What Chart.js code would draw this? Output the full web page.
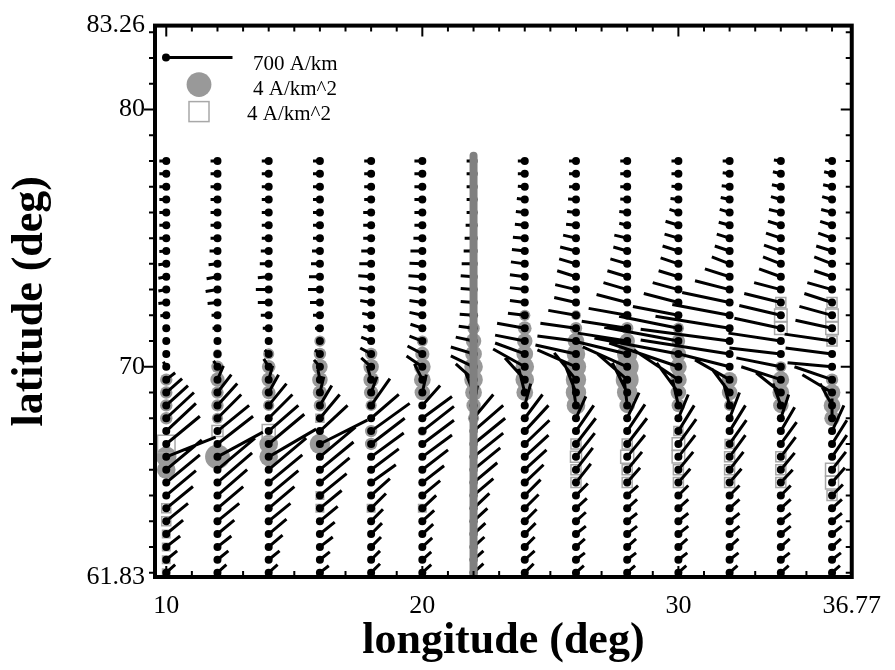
<!DOCTYPE html>
<html>
<head>
<meta charset="utf-8">
<script src="https://cdn.jsdelivr.net/npm/chart.js@4.4.1/dist/chart.umd.min.js"></script>
<style>
  html, body { margin: 0; background: #fff; }
</style>
</head>
<body>
<canvas id="vectorPlot" width="895" height="670"></canvas>
<script>
// grid of the equivalent current vectors
const longitudes = [10, 12, 14, 16, 18, 20, 22, 24, 26, 28, 30, 32, 34, 36]
const latitudes = [78, 77.5, 77, 76.5, 76, 75.5, 75, 74.5, 74, 73.5, 73, 72.5, 72, 71.5, 71, 70.5, 70,
                   69.5, 69, 68.5, 68, 67.5, 67, 66.5, 66, 65.5, 65, 64.5, 64, 63.5, 63, 62.5, 62]

// east / north components in A/km, one row per longitude, top latitude first
const eastCurrent = [
  [-70,-70,-70,-70,-70,-70,-70,-70,-80,-80,-80,-80,-60,-30,-20,-20,-30,90,160,220,280,300,340,500,360,340,300,270,220,170,140,110,90],
  [-70,-70,-70,-70,-70,-70,-70,-80,-90,-110,-120,-100,-60,-50,-30,-20,-40,60,140,200,240,320,360,460,380,350,300,260,220,170,140,110,90],
  [-70,-70,-70,-70,-70,-70,-70,-80,-90,-110,-130,-110,-80,-60,-30,-40,-50,40,100,180,240,300,360,480,380,340,300,260,220,180,140,110,90],
  [-70,-70,-70,-70,-70,-70,-70,-80,-90,-110,-120,-100,-70,-50,-30,-50,-60,-20,40,120,200,280,480,360,340,300,270,220,180,150,130,100,90],
  [-70,-70,-70,-70,-80,-80,-80,-100,-120,-130,-120,-110,-90,-80,-100,-110,-100,-40,60,190,280,390,340,330,280,250,190,150,120,110,100,90,90],
  [-80,-80,-80,-80,-80,-80,-90,-120,-130,-140,-140,-130,-130,-120,-130,-150,-160,-80,40,180,300,320,320,300,260,220,180,140,120,110,100,90,90],
  [-70,-70,-70,-70,-70,-80,-90,-100,-120,-130,-130,-130,-140,-150,-180,-230,-230,-180,-80,40,200,300,320,300,270,240,200,160,140,120,110,100,100],
  [-70,-70,-70,-80,-90,-100,-120,-130,-140,-150,-150,-150,-170,-280,-300,-300,-320,-200,-60,60,180,240,250,240,220,190,160,140,120,110,100,100,90],
  [-70,-70,-70,-80,-90,-100,-130,-160,-170,-190,-210,-220,-280,-360,-390,-410,-390,-220,-120,-40,100,180,200,190,170,150,120,110,100,100,90,90,80],
  [-70,-70,-70,-70,-80,-80,-130,-140,-170,-200,-240,-310,-390,-460,-500,-500,-450,-300,-150,-30,120,180,200,180,150,130,110,100,100,100,90,90,80],
  [-70,-70,-70,-80,-90,-130,-140,-160,-180,-200,-260,-350,-460,-600,-750,-850,-700,-450,-220,-60,100,160,180,170,150,120,100,100,100,100,90,90,80],
  [-70,-70,-80,-90,-100,-110,-130,-150,-180,-250,-350,-480,-580,-750,-900,-900,-550,-350,-180,-60,100,160,170,160,140,120,100,100,100,100,90,90,80],
  [-70,-80,-90,-100,-120,-130,-150,-170,-180,-220,-270,-370,-420,-470,-530,-520,-450,-400,-250,-80,80,140,160,150,140,120,100,100,100,100,90,90,80],
  [-70,-80,-90,-100,-110,-120,-140,-160,-180,-180,-250,-280,-330,-370,-480,-470,-450,-380,-300,-120,0,120,150,150,140,130,110,100,100,100,90,90,80]
]
const northCurrent = [
  [0,0,0,0,0,0,0,-5,-10,-15,-15,-10,-5,0,0,0,50,70,140,200,260,280,280,200,300,280,250,220,180,140,110,90,80],
  [0,0,0,0,0,0,0,0,-10,-20,-20,-10,0,0,0,10,60,140,180,220,240,260,280,250,320,300,260,220,180,140,110,90,80],
  [0,0,0,0,0,0,0,0,0,-10,0,0,0,0,10,40,80,140,180,220,240,260,300,280,320,280,250,220,180,150,120,90,80],
  [0,0,0,0,0,0,0,0,0,0,0,0,0,0,10,40,70,100,160,200,240,260,240,300,280,250,220,180,150,120,100,80,70],
  [0,0,0,0,0,0,0,0,0,10,15,20,20,20,40,60,90,140,160,270,240,280,260,240,210,180,170,150,120,110,100,90,90],
  [0,0,0,0,0,0,0,0,5,10,20,20,30,40,50,80,110,160,180,200,220,250,240,220,200,170,150,130,110,100,90,80,80],
  [0,0,0,0,0,0,0,0,0,10,10,10,10,20,40,70,110,160,200,200,240,260,260,240,220,200,170,150,130,110,100,90,90],
  [0,0,5,10,10,10,10,15,20,20,20,20,20,50,60,110,180,220,240,220,240,260,240,220,200,180,160,140,120,110,100,90,90],
  [0,0,0,5,10,10,30,40,50,60,50,50,50,50,50,90,170,270,300,270,220,260,260,240,220,190,120,100,90,80,80,70,70],
  [0,0,0,5,10,20,30,40,50,60,70,80,70,70,80,120,200,260,300,260,260,270,260,220,180,150,100,90,80,80,80,70,70],
  [0,0,5,10,30,40,40,50,60,60,70,90,90,120,140,160,240,300,300,260,240,260,250,220,180,140,100,90,80,80,80,70,70],
  [0,10,10,20,30,30,40,50,70,80,90,100,110,120,120,140,140,200,240,220,260,260,240,220,180,140,100,90,80,80,80,70,70],
  [10,20,20,30,30,40,50,60,70,80,70,90,100,100,80,60,90,130,200,220,240,240,220,200,170,130,100,90,80,80,80,70,70],
  [10,20,20,30,30,40,50,50,70,60,70,90,90,80,70,60,40,130,180,220,200,260,240,220,180,150,110,90,80,80,80,70,70]
]

// upward current density (A/km^2): [lon, lat, value]
const upwardDensity = [
  [10,69.5,2],[10,69,2],[10,68.5,2],[10,68,2],[10,66.5,3.3],[10,66,3],
  [12,70.5,1.5],[12,70,2],[12,69.5,2.3],[12,69,2],[12,68.5,2],[12,68,1.8],[12,66.5,4],
  [14,70.5,1.8],[14,70,2.2],[14,69.5,2.3],[14,69,2.2],[14,68.5,1.8],[14,67,3],[14,66.5,3],
  [16,71,1.8],[16,70.5,2],[16,70,2.5],[16,69.5,2.5],[16,69,2.3],[16,68.5,2],[16,67,3.3],
  [18,70.5,2],[18,70,2.5],[18,69.5,2.5],[18,69,2.3],[18,68.5,1.8],[18,67.5,2],[18,67,2],
  [20,71,1.8],[20,70.5,2.3],[20,70,2.7],[20,69.5,2.7],[20,69,2.5],[20,67.5,1.5],
  [22,72,1.5],[22,71.5,2],[22,71,2.5],[22,70.5,2.7],[22,70,3],[22,69.5,3],[22,69,2.7],[22,68.5,2.3],[22,68,1.8],
  [24,72,1.8],[24,71.5,2.2],[24,71,2.5],[24,70.5,2.7],[24,70,3],[24,69.5,3],[24,69,2.7],
  [26,72,1.6],[26,71.5,2],[26,71,2.7],[26,70.5,3],[26,70,3.3],[26,69.5,3.3],[26,69,3.3],[26,68.5,3],
  [28,72,1.5],[28,71.5,2],[28,71,2.5],[28,70.5,3.3],[28,70,3.7],[28,69.5,3.7],[28,69,3.3],[28,68.5,2.5],
  [30,71.5,1.8],[30,71,2.2],[30,70.5,2.5],[30,70,2.7],[30,69.5,2.7],[30,69,2.5],[30,68.5,2.2],
  [32,69.5,2.5],[32,69,2.5],[32,68.5,1.8],
  [34,70,1.8],[34,69.5,2.7],[34,69,2.7],[34,68.5,2.5],
  [36,69.5,2],[36,69,2.7],[36,68.5,2.7],[36,68,2.5]
]
// downward current density (A/km^2): [lon, lat, value]
const downwardDensity = [
  [10,67,3.5],[10,64.5,1.8],[10,64,1.8],[10,63.5,1.5],[10,63,1.5],[10,62.5,1.5],[10,62,1.5],
  [12,67.5,2.2],[14,67.5,2.6],
  [16,68,1.6],[16,65,1.5],[16,64.5,1.5],[18,64.5,1.5],[20,64.5,1.5],
  [26,67,2],[26,66.5,2.2],[26,66,2],[26,65.5,2],
  [28,67,2],[28,66.5,2.6],[28,66,2],[28,65.5,2],
  [30,67.5,1.8],[30,67,2.5],[30,66.5,2.5],[30,66,2],[30,65.5,2],
  [32,67,1.8],[32,66.5,2],[32,66,2],[32,65.5,2],
  [34,72.5,2],[34,72,2.5],[34,71.5,2.5],[34,66.5,2],[34,66,2],[34,65.5,2],
  [36,72.5,2],[36,72,2.5],[36,71.5,2.5],[36,71,2],[36,66,2.6],[36,65.5,2.6],[36,65,2]
]

const meridianLon = 22
const meridianLat = [61.83, 78.2]

const xRange = [9.56, 36.77]
const yRange = [61.83, 83.26]
const xTickLabels = [10, 20, 30, 36.77]
const yTickLabels = [61.83, 70, 80, 83.26]

const refCurrent = 700   // A/km
const refDensity = 4     // A/km^2

const pxPerCurrent = 0.1           // px per A/km
const lonPerPx = (xRange[1] - xRange[0]) / 705
const latPerPx = (yRange[1] - yRange[0]) / 557
const circleRadius = v => 3.1 * v
const squareSide = v => 5 * v

const serif = '"Liberation Serif", "Times New Roman", serif'

// build the datasets
const gridPoints = []
const vectorPath = []
longitudes.forEach((lon, i) => {
    latitudes.forEach((lat, j) => {
        gridPoints.push({x: lon, y: lat})
        vectorPath.push({x: lon, y: lat})
        vectorPath.push({
            x: lon + eastCurrent[i][j] * pxPerCurrent * lonPerPx,
            y: lat + northCurrent[i][j] * pxPerCurrent * latPerPx
        })
        vectorPath.push({x: null, y: null})
    })
})

// frame, ticks and key
const framePlugin = {
    id: 'frame',
    afterDraw(chart) {
        const {ctx, chartArea: a, scales: {x, y}} = chart
        ctx.save()
        ctx.strokeStyle = '#000'
        ctx.lineWidth = 2
        ctx.beginPath()
        for (let lon = 10; lon <= 36; lon++) {
            const px = x.getPixelForValue(lon)
            const len = lon % 10 === 0 ? 11 : 6
            ctx.moveTo(px, a.bottom); ctx.lineTo(px, a.bottom - len)
            ctx.moveTo(px, a.top); ctx.lineTo(px, a.top + len)
        }
        for (let lat = 62; lat <= 83; lat++) {
            const py = y.getPixelForValue(lat)
            const len = lat % 10 === 0 ? 11 : 6
            ctx.moveTo(a.left, py); ctx.lineTo(a.left - len, py)
            ctx.moveTo(a.right, py); ctx.lineTo(a.right - len, py)
        }
        ctx.stroke()
        ctx.lineWidth = 4
        ctx.strokeRect(a.left, a.top, a.right - a.left, a.bottom - a.top)

        // key
        const kx = a.left + 11, ky = a.top + 32
        ctx.lineWidth = 3
        ctx.beginPath()
        ctx.moveTo(kx, ky); ctx.lineTo(kx + refCurrent * pxPerCurrent * 0.95, ky)
        ctx.stroke()
        ctx.fillStyle = '#000'
        ctx.beginPath(); ctx.arc(kx, ky, 4, 0, Math.PI * 2); ctx.fill()
        ctx.fillStyle = '#999'
        ctx.beginPath(); ctx.arc(a.left + 44, a.top + 59, circleRadius(refDensity), 0, Math.PI * 2); ctx.fill()
        const s = squareSide(refDensity)
        ctx.strokeStyle = '#a8a8a8'
        ctx.lineWidth = 1.5
        ctx.strokeRect(a.left + 44 - s / 2, a.top + 86 - s / 2, s, s)
        ctx.fillStyle = '#000'
        ctx.font = '21px ' + serif
        ctx.textBaseline = 'middle'
        ctx.fillText(refCurrent + ' A/km', a.left + 98, a.top + 39)
        ctx.fillText(refDensity + ' A/km^2', a.left + 98, a.top + 64)
        ctx.fillText(refDensity + ' A/km^2', a.left + 92, a.top + 89)
        ctx.restore()
    }
}

new Chart(document.getElementById('vectorPlot'), {
    type: 'scatter',
    data: {
        datasets: [{
            label: 'upward',
            data: upwardDensity.map(d => ({x: d[0], y: d[1], v: d[2]})),
            backgroundColor: '#999',
            borderWidth: 0,
            pointRadius: c => c.raw ? circleRadius(c.raw.v) : 0,
            order: 5
        }, {
            label: 'downward',
            data: downwardDensity.map(d => ({x: d[0], y: d[1], v: d[2]})),
            pointStyle: 'rect',
            backgroundColor: 'rgba(0,0,0,0)',
            borderColor: '#a8a8a8',
            borderWidth: 1.5,
            pointRadius: c => c.raw ? squareSide(c.raw.v) / Math.SQRT2 : 0,
            order: 4
        }, {
            label: 'current',
            data: vectorPath,
            showLine: true,
            spanGaps: false,
            borderColor: '#000',
            borderWidth: 3,
            pointRadius: 0,
            order: 3
        }, {
            label: 'grid',
            data: gridPoints,
            backgroundColor: '#000',
            borderWidth: 0,
            pointRadius: 4,
            order: 2
        }, {
            label: 'meridian',
            data: meridianLat.map(lat => ({x: meridianLon, y: lat})),
            showLine: true,
            borderColor: '#808080',
            borderWidth: 8,
            borderCapStyle: 'round',
            pointRadius: 0,
            clip: 0,
            order: 1
        }]
    },
    options: {
        responsive: false,
        animation: false,
        layout: {padding: {left: 0, top: 20, right: 35, bottom: 0}},
        plugins: {legend: {display: false}, tooltip: {enabled: false}},
        scales: {
            x: {
                type: 'linear', min: xRange[0], max: xRange[1],
                grid: {display: false, drawTicks: false},
                border: {display: false},
                afterBuildTicks: s => { s.ticks = xTickLabels.map(v => ({value: v})) },
                afterFit: s => { s.height = 93 },
                ticks: {autoSkip: false, maxRotation: 0, padding: 14, color: '#000',
                        font: {family: serif, size: 26}, callback: v => String(v)},
                title: {display: true, text: 'longitude (deg)', color: '#000',
                        font: {family: serif, size: 44, weight: 'bold'}, padding: {top: 0, bottom: 2}}
            },
            y: {
                type: 'linear', min: yRange[0], max: yRange[1],
                grid: {display: false, drawTicks: false},
                border: {display: false},
                afterBuildTicks: s => { s.ticks = yTickLabels.map(v => ({value: v})) },
                afterFit: s => { s.width = 155 },
                ticks: {autoSkip: false, padding: 10, color: '#000',
                        font: {family: serif, size: 26}, callback: v => String(v)},
                title: {display: true, text: 'latitude (deg)', color: '#000',
                        font: {family: serif, size: 44, weight: 'bold'}, padding: {top: 4, bottom: 0}}
            }
        }
    },
    plugins: [framePlugin]
})
</script>
</body>
</html>
